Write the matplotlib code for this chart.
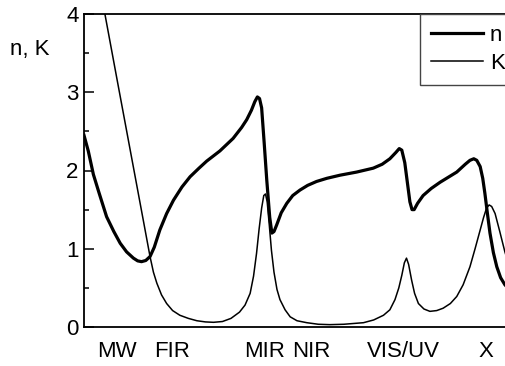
import matplotlib
matplotlib.use("Agg")
import matplotlib.pyplot as plt
from matplotlib.ticker import MultipleLocator

plt.rcParams['font.family'] = ['Liberation Sans', 'DejaVu Sans']

# refractive index n (thick line)
n_x = [0, 1, 2.2, 3.5, 5.3, 7, 8.5, 10, 11.6, 12.6, 13.5, 14.5, 15.5, 16.5, 17.8, 19.4,
       21.0, 23.0, 24.9, 27, 28.8, 31.9, 35.0, 37, 38.2, 39.3, 40.1, 40.7, 41.2, 41.7,
       42.3, 42.9, 43.6, 44.1, 44.6, 45.2, 46.3, 47.6, 49, 50.7, 52.5, 54.6, 57, 60.1,
       64, 67.9, 70, 71.8, 73.2, 74.0, 74.6, 75.3, 75.9, 76.5, 77.0, 77.5, 78.3, 79.6,
       81.5, 83.6, 87.5, 89.5, 90.6, 91.5, 92.2, 93.0, 93.6, 94.1, 94.7, 95.3, 96.1,
       96.9, 97.8, 98.8, 100]
n_y = [2.45, 2.25, 1.95, 1.72, 1.41, 1.22, 1.07, 0.96, 0.88, 0.845, 0.835, 0.85, 0.90,
       1.02, 1.24, 1.45, 1.62, 1.79, 1.92, 2.03, 2.12, 2.25, 2.41, 2.55, 2.65, 2.77, 2.88,
       2.94, 2.92, 2.80, 2.35, 1.88, 1.40, 1.20, 1.22, 1.30, 1.46, 1.58, 1.68, 1.75, 1.81,
       1.86, 1.90, 1.94, 1.98, 2.03, 2.08, 2.15, 2.23, 2.28, 2.26, 2.10, 1.85, 1.60, 1.50,
       1.50, 1.58, 1.68, 1.77, 1.85, 1.98, 2.08, 2.13, 2.15, 2.13, 2.05, 1.90, 1.71, 1.45,
       1.20, 0.95, 0.77, 0.63, 0.54, 0.47]

# extinction coefficient K (thin line)
k_x = [4.6, 7.7, 10.2, 12.7, 14.0, 15.5, 16.3, 17.1, 18.2, 19.4, 20.8, 22.5, 24.5, 26.5,
       28.5, 30.4, 32.5, 34.5, 36.5, 37.8, 39.0, 39.8, 40.5, 41.1, 41.7, 42.2, 42.6, 43.0,
       43.5, 44.0, 44.6, 45.3, 46.0, 47.2, 48.4, 50, 52.3, 55, 57.7, 61, 65.6, 68, 70.3,
       71.8, 73.0, 73.9, 74.6, 75.2, 75.7, 76.2, 76.9, 77.6, 78.5, 79.8, 81.2, 82.8, 84.3,
       86, 87.5, 89, 90.6, 91.8, 93.0, 93.8, 94.5, 95.1, 95.7, 96.5, 97.6, 98.8, 100]
k_y = [4.09, 3.18, 2.45, 1.72, 1.34, 0.90, 0.70, 0.56, 0.41, 0.30, 0.21, 0.15, 0.11, 0.08,
       0.065, 0.06, 0.07, 0.11, 0.19, 0.28, 0.43, 0.65, 0.94, 1.25, 1.52, 1.68, 1.70, 1.60,
       1.30, 0.98, 0.70, 0.48, 0.35, 0.22, 0.13, 0.08, 0.055, 0.035, 0.03, 0.035, 0.055,
       0.09, 0.15, 0.22, 0.35, 0.50, 0.66, 0.82, 0.88, 0.80, 0.60, 0.43, 0.30, 0.23, 0.20,
       0.21, 0.24, 0.30, 0.39, 0.54, 0.77, 1.00, 1.24, 1.40, 1.52, 1.56, 1.54, 1.45, 1.22,
       0.96, 0.75]

band_pos = [7.7, 20.7, 42.5, 53.3, 74.9, 94.4]
band_labels = ['MW', 'FIR', 'MIR', 'NIR', 'VIS/UV', 'X']

W, H = 506, 366
fig = plt.figure(figsize=(W / 100, H / 100), dpi=100)
ax = fig.add_axes([84 / W, 39 / H, 426 / W, 313 / H])

ax.plot(n_x, n_y, color='black', lw=2.3, label='n')
ax.plot(k_x, k_y, color='black', lw=1.1, label='K')

ax.set_xlim(0, 100)
ax.set_ylim(0, 4)
ax.yaxis.set_major_locator(MultipleLocator(1))
ax.yaxis.set_minor_locator(MultipleLocator(0.5))
ax.tick_params(axis='y', which='major', direction='in', length=7, width=1.1, labelsize=16, pad=4)
ax.tick_params(axis='y', which='minor', direction='in', length=3.5, width=1.1)
ax.set_xticks(band_pos)
ax.set_xticklabels(band_labels)
ax.tick_params(axis='x', length=0, labelsize=16, pad=10)
for s in ax.spines.values():
    s.set_linewidth(1.3)

fig.text(10 / W, 1 - 49 / H, 'n, K', fontsize=16, va='center', ha='left')

leg = ax.legend(loc='upper left', bbox_to_anchor=(420 / W, 1 - 14 / H),
                bbox_transform=fig.transFigure, borderaxespad=0, fontsize=16,
                handlelength=2.35, handletextpad=0.3, labelspacing=0.3,
                borderpad=0.5, fancybox=False, framealpha=1)
leg.get_frame().set_edgecolor('#444444')
leg.get_frame().set_linewidth(1.0)

fig.savefig('out.png', dpi=100)
